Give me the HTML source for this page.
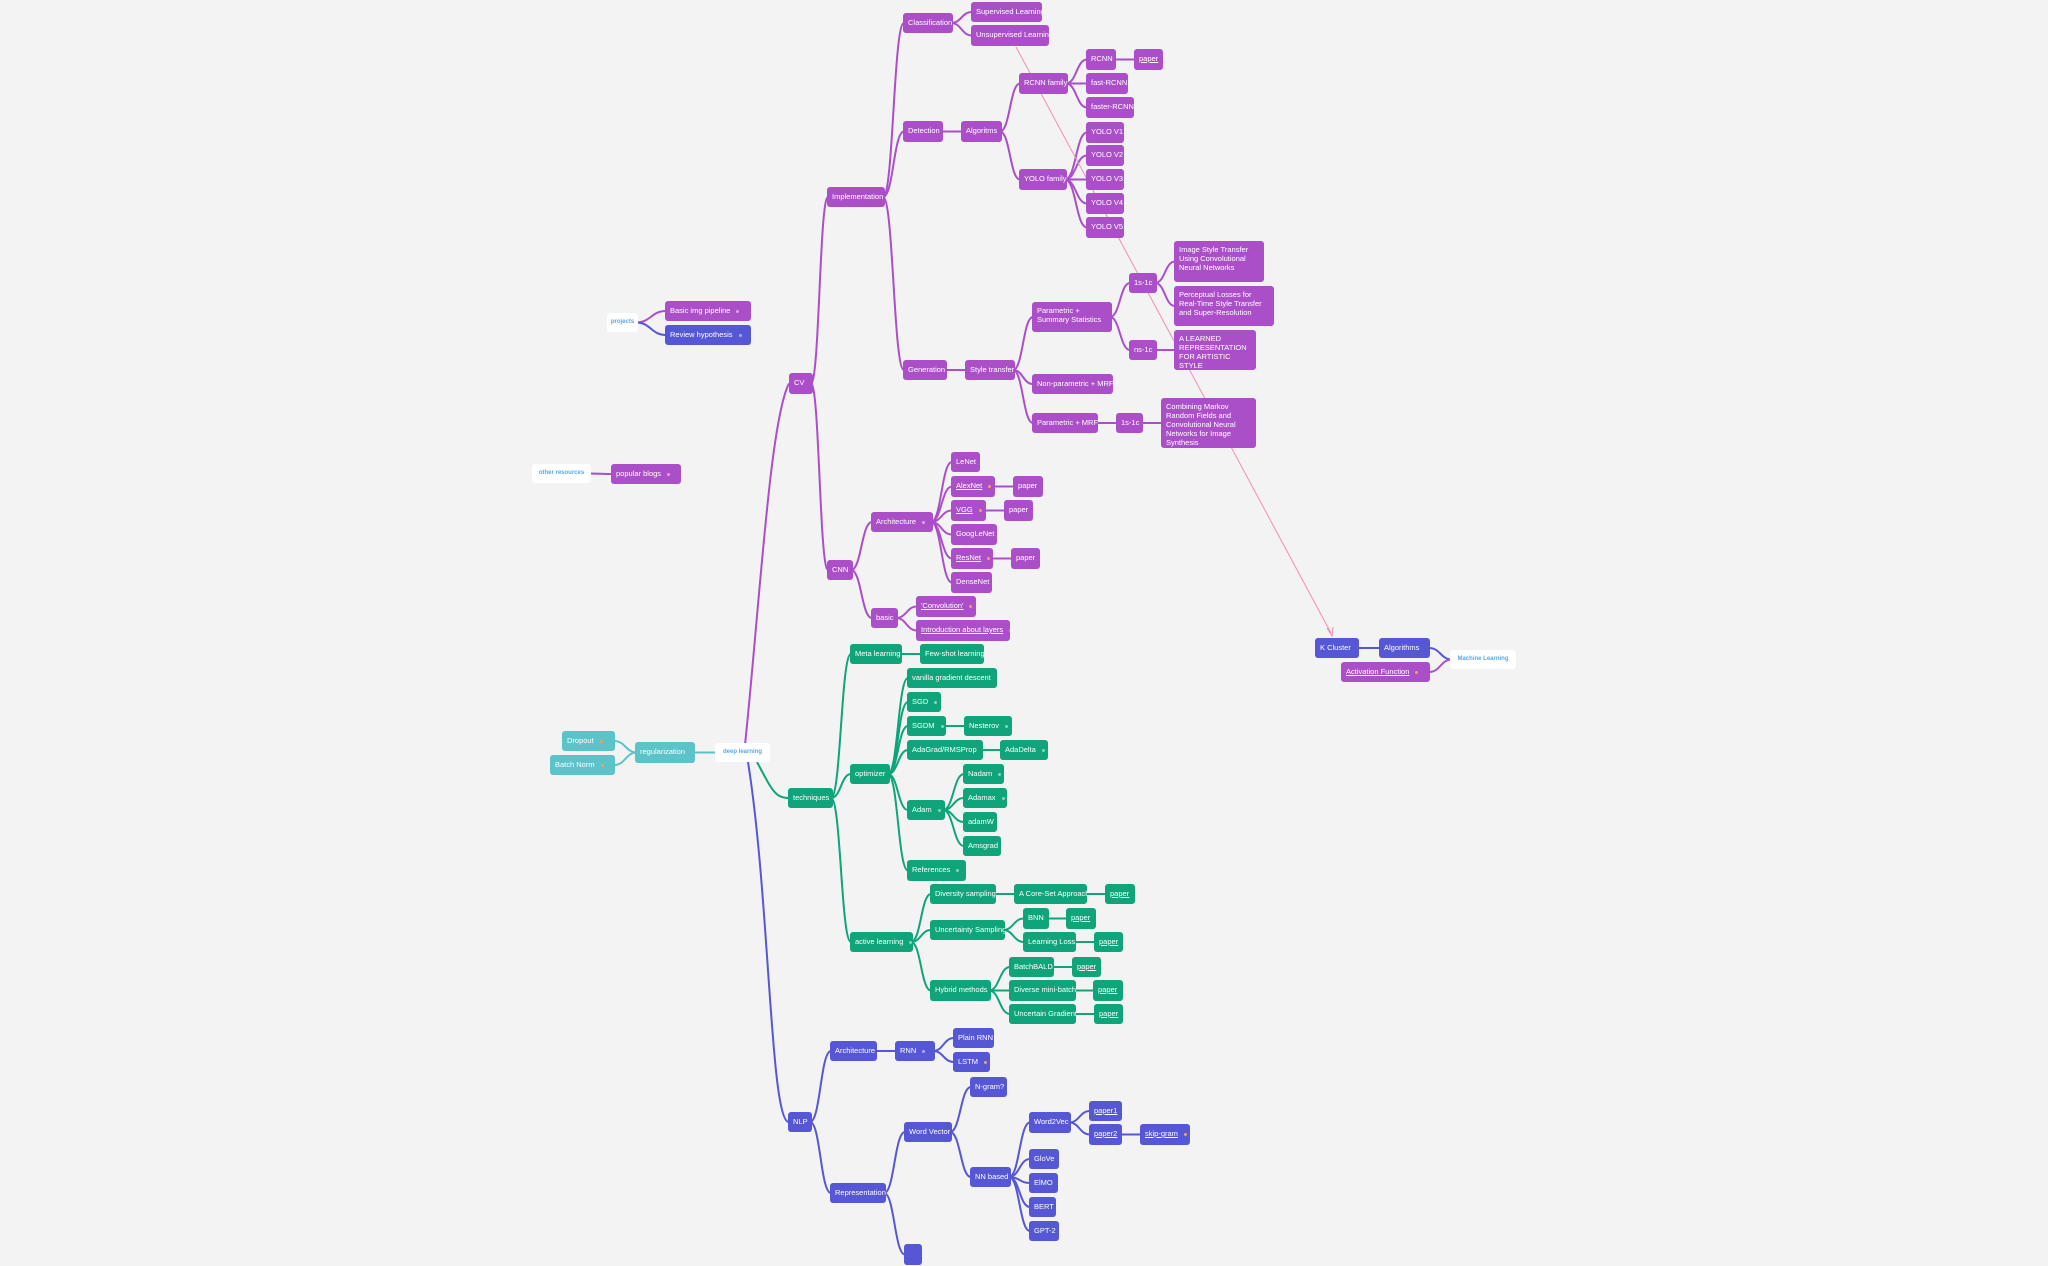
<!DOCTYPE html>
<html><head><meta charset="utf-8"><style>
html,body{margin:0;padding:0;}
body{width:2048px;height:1266px;background:#f3f3f4;position:relative;overflow:hidden;font-family:"Liberation Sans",sans-serif;}
.n{position:absolute;box-sizing:border-box;border-radius:3px;color:#fff;font-size:7.5px;padding:0 5px;white-space:nowrap;line-height:20px;overflow:hidden;}
.m{white-space:normal;line-height:9px;padding-top:4px;}
.p{background:#ab4fc9;}
.g{background:#0fa47a;}
.b{background:#5657d4;}
.t{background:#5cc3c9;}
.w{background:#fff;color:#5aa9e6;font-size:6px;font-weight:bold;text-align:center;line-height:19px;padding:0;}
.u{text-decoration:underline;}
.d{display:inline-block;width:3px;height:3px;border-radius:2px;background:rgba(255,255,255,.5);margin-left:6px;vertical-align:middle;}
.o{background:#f5a05a;}
svg{position:absolute;left:0;top:0;}
</style></head><body>
<svg id="s" width="2048" height="1266"></svg>

<div class="n w" id="proj" style="left:607px;top:313px;width:31px;height:19px">projects</div>
<div class="n w" id="other" style="left:532px;top:464px;width:59px;height:19px">other resources</div>
<div class="n w" id="dl" style="left:715px;top:743px;width:55px;height:19px">deep learning</div>
<div class="n w" id="ml" style="left:1450px;top:650px;width:66px;height:19px">Machine Learning</div>

<div class="n p" id="basicimg" style="left:665px;top:301px;width:86px;height:20px">Basic img pipeline<span class="d"></span></div>
<div class="n b" id="rev" style="left:665px;top:325px;width:86px;height:20px">Review hypothesis<span class="d"></span></div>
<div class="n p" id="popular" style="left:611px;top:464px;width:70px;height:20px">popular blogs<span class="d"></span></div>

<div class="n t" id="reg" style="left:635px;top:742px;width:60px;height:21px">regularization</div>
<div class="n t" id="drop" style="left:562px;top:731px;width:53px;height:20px">Dropout<span class="d o"></span></div>
<div class="n t" id="bn" style="left:550px;top:755px;width:65px;height:20px">Batch Norm<span class="d o"></span></div>

<div class="n p" id="cv" style="left:789px;top:373px;width:24px;height:21px">CV</div>
<div class="n p" id="imp" style="left:827px;top:187px;width:58px;height:20px">Implementation</div>
<div class="n p" id="cls" style="left:903px;top:13px;width:50px;height:20px">Classification</div>
<div class="n p" id="sup" style="left:971px;top:2px;width:71px;height:20px">Supervised Learning</div>
<div class="n p" id="uns" style="left:971px;top:25px;width:78px;height:21px">Unsupervised Learning</div>
<div class="n p" id="det" style="left:903px;top:121px;width:40px;height:21px">Detection</div>
<div class="n p" id="alg" style="left:961px;top:121px;width:41px;height:21px">Algoritms</div>
<div class="n p" id="rf" style="left:1019px;top:73px;width:49px;height:21px">RCNN family</div>
<div class="n p" id="rcnn" style="left:1086px;top:49px;width:30px;height:21px">RCNN</div>
<div class="n p" id="rp" style="left:1134px;top:49px;width:29px;height:21px"><span class="u">paper</span></div>
<div class="n p" id="frc" style="left:1086px;top:73px;width:42px;height:21px">fast-RCNN</div>
<div class="n p" id="ffrc" style="left:1086px;top:97px;width:48px;height:21px">faster-RCNN</div>
<div class="n p" id="yf" style="left:1019px;top:169px;width:48px;height:21px">YOLO family</div>
<div class="n p" id="y1" style="left:1086px;top:122px;width:38px;height:21px">YOLO V1</div>
<div class="n p" id="y2" style="left:1086px;top:145px;width:38px;height:21px">YOLO V2</div>
<div class="n p" id="y3" style="left:1086px;top:169px;width:38px;height:21px">YOLO V3</div>
<div class="n p" id="y4" style="left:1086px;top:193px;width:38px;height:21px">YOLO V4</div>
<div class="n p" id="y5" style="left:1086px;top:217px;width:38px;height:21px">YOLO V5</div>
<div class="n p" id="gen" style="left:903px;top:360px;width:44px;height:20px">Generation</div>
<div class="n p" id="st" style="left:965px;top:360px;width:50px;height:20px">Style transfer</div>
<div class="n p m" id="pss" style="left:1032px;top:302px;width:80px;height:30px">Parametric + Summary Statistics</div>
<div class="n p" id="s1" style="left:1129px;top:273px;width:28px;height:20px">1s-1c</div>
<div class="n p" id="ns" style="left:1129px;top:340px;width:28px;height:20px">ns-1c</div>
<div class="n p m" id="ist" style="left:1174px;top:241px;width:90px;height:41px">Image Style Transfer Using Convolutional Neural Networks</div>
<div class="n p m" id="pl" style="left:1174px;top:286px;width:100px;height:40px">Perceptual Losses for Real-Time Style Transfer and Super-Resolution</div>
<div class="n p m" id="alr" style="left:1174px;top:330px;width:82px;height:40px">A LEARNED REPRESENTATION FOR ARTISTIC STYLE</div>
<div class="n p" id="npm" style="left:1032px;top:374px;width:81px;height:20px">Non-parametric + MRFs</div>
<div class="n p" id="pm" style="left:1032px;top:413px;width:66px;height:20px">Parametric + MRFs</div>
<div class="n p" id="s2" style="left:1116px;top:413px;width:27px;height:20px">1s-1c</div>
<div class="n p m" id="cmb" style="left:1161px;top:398px;width:95px;height:50px">Combining Markov Random Fields and Convolutional Neural Networks for Image Synthesis</div>

<div class="n p" id="cnn" style="left:827px;top:560px;width:26px;height:20px">CNN</div>
<div class="n p" id="arch" style="left:871px;top:512px;width:62px;height:20px">Architecture<span class="d"></span></div>
<div class="n p" id="lenet" style="left:951px;top:452px;width:29px;height:20px">LeNet</div>
<div class="n p" id="alex" style="left:951px;top:476px;width:44px;height:21px"><span class="u">AlexNet</span><span class="d o"></span></div>
<div class="n p" id="alexp" style="left:1013px;top:476px;width:30px;height:21px">paper</div>
<div class="n p" id="vgg" style="left:951px;top:500px;width:35px;height:21px"><span class="u">VGG</span><span class="d o"></span></div>
<div class="n p" id="vggp" style="left:1004px;top:500px;width:29px;height:21px">paper</div>
<div class="n p" id="goog" style="left:951px;top:524px;width:46px;height:21px">GoogLeNet</div>
<div class="n p" id="res" style="left:951px;top:548px;width:42px;height:21px"><span class="u">ResNet</span><span class="d o"></span></div>
<div class="n p" id="resp" style="left:1011px;top:548px;width:29px;height:21px">paper</div>
<div class="n p" id="dense" style="left:951px;top:572px;width:41px;height:21px">DenseNet</div>
<div class="n p" id="basic" style="left:871px;top:608px;width:27px;height:20px">basic</div>
<div class="n p" id="conv" style="left:916px;top:596px;width:60px;height:21px"><span class="u">'Convolution'</span><span class="d o"></span></div>
<div class="n p" id="intro" style="left:916px;top:620px;width:94px;height:21px"><span class="u">Introduction about layers</span><span class="d o"></span></div>

<div class="n g" id="tech" style="left:788px;top:788px;width:45px;height:20px">techniques</div>
<div class="n g" id="meta" style="left:850px;top:644px;width:52px;height:20px">Meta learning</div>
<div class="n g" id="fs" style="left:920px;top:644px;width:64px;height:20px">Few-shot learning</div>
<div class="n g" id="opt" style="left:850px;top:764px;width:40px;height:20px">optimizer</div>
<div class="n g" id="vgd" style="left:907px;top:668px;width:90px;height:20px">vanilla gradient descent<span class="d"></span></div>
<div class="n g" id="sgd" style="left:907px;top:692px;width:34px;height:20px">SGD<span class="d"></span></div>
<div class="n g" id="sgdm" style="left:907px;top:716px;width:39px;height:20px">SGDM<span class="d"></span></div>
<div class="n g" id="nest" style="left:964px;top:716px;width:48px;height:20px">Nesterov<span class="d"></span></div>
<div class="n g" id="ada" style="left:907px;top:740px;width:76px;height:20px">AdaGrad/RMSProp<span class="d"></span></div>
<div class="n g" id="adad" style="left:1000px;top:740px;width:48px;height:20px">AdaDelta<span class="d"></span></div>
<div class="n g" id="adam" style="left:907px;top:800px;width:38px;height:20px">Adam<span class="d"></span></div>
<div class="n g" id="nadam" style="left:963px;top:764px;width:41px;height:20px">Nadam<span class="d"></span></div>
<div class="n g" id="adamax" style="left:963px;top:788px;width:44px;height:20px">Adamax<span class="d"></span></div>
<div class="n g" id="adamw" style="left:963px;top:812px;width:34px;height:20px">adamW</div>
<div class="n g" id="ams" style="left:963px;top:836px;width:38px;height:20px">Amsgrad</div>
<div class="n g" id="ref" style="left:907px;top:860px;width:59px;height:21px">References<span class="d"></span></div>
<div class="n g" id="al" style="left:850px;top:932px;width:63px;height:20px">active learning<span class="d"></span></div>
<div class="n g" id="div" style="left:930px;top:884px;width:66px;height:20px">Diversity sampling</div>
<div class="n g" id="core" style="left:1014px;top:884px;width:73px;height:20px">A Core-Set Approach</div>
<div class="n g" id="corep" style="left:1105px;top:884px;width:30px;height:20px"><span class="u">paper</span></div>
<div class="n g" id="unc" style="left:930px;top:920px;width:75px;height:20px">Uncertainty Sampling</div>
<div class="n g" id="bnn" style="left:1023px;top:908px;width:26px;height:21px">BNN</div>
<div class="n g" id="bnnp" style="left:1066px;top:908px;width:30px;height:21px"><span class="u">paper</span></div>
<div class="n g" id="ll" style="left:1023px;top:932px;width:53px;height:20px">Learning Loss</div>
<div class="n g" id="llp" style="left:1094px;top:932px;width:29px;height:20px"><span class="u">paper</span></div>
<div class="n g" id="hyb" style="left:930px;top:980px;width:61px;height:21px">Hybrid methods</div>
<div class="n g" id="bb" style="left:1009px;top:957px;width:45px;height:20px">BatchBALD</div>
<div class="n g" id="bbp" style="left:1072px;top:957px;width:29px;height:20px"><span class="u">paper</span></div>
<div class="n g" id="dmb" style="left:1009px;top:980px;width:67px;height:21px">Diverse mini-batch</div>
<div class="n g" id="dmbp" style="left:1093px;top:980px;width:30px;height:21px"><span class="u">paper</span></div>
<div class="n g" id="ug" style="left:1009px;top:1004px;width:67px;height:20px">Uncertain Gradient</div>
<div class="n g" id="ugp" style="left:1094px;top:1004px;width:29px;height:20px"><span class="u">paper</span></div>

<div class="n b" id="nlp" style="left:788px;top:1112px;width:24px;height:20px">NLP</div>
<div class="n b" id="narch" style="left:830px;top:1041px;width:47px;height:20px">Architecture</div>
<div class="n b" id="rnn" style="left:895px;top:1041px;width:40px;height:20px">RNN<span class="d"></span></div>
<div class="n b" id="prnn" style="left:953px;top:1028px;width:41px;height:20px">Plain RNN</div>
<div class="n b" id="lstm" style="left:953px;top:1052px;width:37px;height:20px">LSTM<span class="d o"></span></div>
<div class="n b" id="rep" style="left:830px;top:1183px;width:56px;height:20px">Representation</div>
<div class="n b" id="wv" style="left:904px;top:1122px;width:48px;height:20px">Word Vector</div>
<div class="n b" id="ng" style="left:970px;top:1077px;width:37px;height:20px">N-gram?</div>
<div class="n b" id="nnb" style="left:970px;top:1167px;width:41px;height:20px">NN based</div>
<div class="n b" id="w2v" style="left:1029px;top:1112px;width:42px;height:21px">Word2Vec</div>
<div class="n b" id="p1" style="left:1089px;top:1101px;width:33px;height:20px"><span class="u">paper1</span></div>
<div class="n b" id="p2" style="left:1089px;top:1124px;width:33px;height:21px"><span class="u">paper2</span></div>
<div class="n b" id="sg" style="left:1140px;top:1124px;width:50px;height:21px"><span class="u">skip-gram</span><span class="d o"></span></div>
<div class="n b" id="glove" style="left:1029px;top:1149px;width:30px;height:20px">GloVe</div>
<div class="n b" id="elmo" style="left:1029px;top:1173px;width:29px;height:20px">ElMO</div>
<div class="n b" id="bert" style="left:1029px;top:1197px;width:27px;height:20px">BERT</div>
<div class="n b" id="gpt" style="left:1029px;top:1221px;width:30px;height:20px">GPT-2</div>
<div class="n b" id="empty" style="left:904px;top:1244px;width:18px;height:21px"></div>

<div class="n b" id="kc" style="left:1315px;top:638px;width:44px;height:20px">K Cluster</div>
<div class="n b" id="algs" style="left:1379px;top:638px;width:51px;height:20px">Algorithms</div>
<div class="n p" id="act" style="left:1341px;top:662px;width:89px;height:20px"><span class="u">Activation Function</span><span class="d o"></span></div>

<script>
var C={p:"#ab4fc9",g:"#0fa47a",b:"#5657d4",t:"#5cc3c9"};
function box(id){var e=document.getElementById(id);return{x:e.offsetLeft,y:e.offsetTop,w:e.offsetWidth,h:e.offsetHeight,c:e.className};}
function col(id){var c=box(id).c;for(var k in C){if(c.indexOf(" "+k)>=0)return C[k];}return "#999";}
var s=document.getElementById("s"),out="";
function path(x1,y1,x2,y2,c){var d=(x2-x1)/2;out+='<path d="M'+x1+','+y1+' C'+(x1+d)+','+y1+' '+(x1+d)+','+y2+' '+x2+','+y2+'" fill="none" stroke="'+c+'" stroke-width="2"/>';}
function R(p,kids){var a=box(p);kids.split(" ").forEach(function(k){var b=box(k);path(a.x+a.w-2,a.y+a.h/2,b.x+1,b.y+b.h/2,col(k));});}
function L(p,kids){var a=box(p);kids.split(" ").forEach(function(k){var b=box(k);path(a.x+2,a.y+a.h/2,b.x+b.w-1,b.y+b.h/2,col(k));});}
R("cv","imp cnn");R("imp","cls det gen");R("cls","sup uns");R("det","alg");R("alg","rf yf");
R("rf","rcnn frc ffrc");R("rcnn","rp");R("yf","y1 y2 y3 y4 y5");R("gen","st");R("st","pss npm pm");
R("pss","s1 ns");R("s1","ist pl");R("ns","alr");R("pm","s2");R("s2","cmb");
R("cnn","arch basic");R("arch","lenet alex vgg goog res dense");R("alex","alexp");R("vgg","vggp");R("res","resp");R("basic","conv intro");
R("tech","meta opt al");R("meta","fs");R("opt","vgd sgd sgdm ada adam ref");R("sgdm","nest");R("ada","adad");
R("adam","nadam adamax adamw ams");R("al","div unc hyb");R("div","core");R("core","corep");R("unc","bnn ll");R("bnn","bnnp");R("ll","llp");
R("hyb","bb dmb ug");R("bb","bbp");R("dmb","dmbp");R("ug","ugp");
R("nlp","narch rep");R("narch","rnn");R("rnn","prnn lstm");R("rep","wv empty");R("wv","ng nnb");R("nnb","w2v glove elmo bert gpt");R("w2v","p1 p2");R("p2","sg");
R("proj","basicimg rev");R("other","popular");L("reg","drop bn");L("ml","algs act");R("kc","algs");
path(695,752.5,716,752.5,C.t);
out+='<path d="M745,745 C760,600 770,420 789,383.5" fill="none" stroke="'+C.p+'" stroke-width="2"/>';
out+='<path d="M757,762 C772,790 775,798 789,798" fill="none" stroke="'+C.g+'" stroke-width="2"/>';
out+='<path d="M748,762 C770,900 770,1122 789,1122" fill="none" stroke="'+C.b+'" stroke-width="2"/>';
out+='<line x1="1016" y1="47" x2="1331" y2="633" stroke="#f28db4" stroke-width="1"/>';
out+='<path d="M1327,628 L1332,636 L1333,627" fill="none" stroke="#f28db4" stroke-width="1"/>';
s.innerHTML=out;
</script>
</body></html>
